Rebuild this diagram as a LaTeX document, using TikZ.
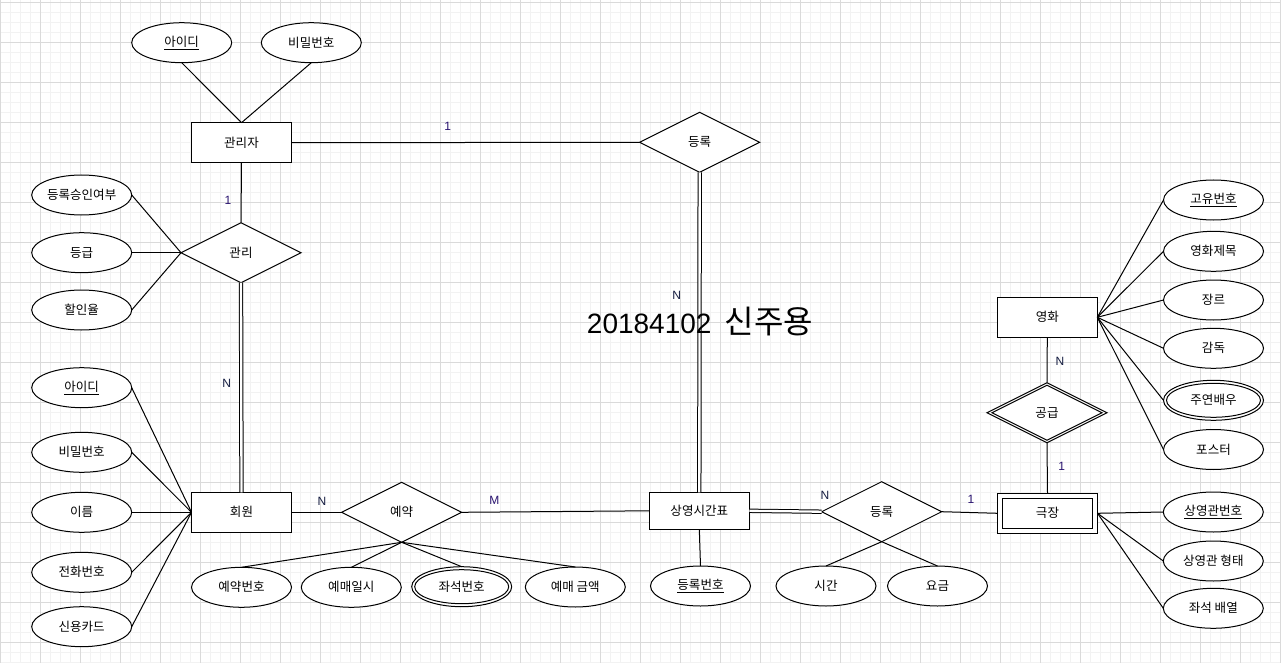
\documentclass[tikz,border=0pt]{standalone}
\usepackage{fontspec}
\setmainfont{Noto Sans CJK KR}
\newfontfamily\lat{Liberation Sans}
\usetikzlibrary{shapes.geometric}
\definecolor{majg}{HTML}{DADADA}
\definecolor{ming}{HTML}{F2F2F2}
\definecolor{cardone}{HTML}{2A1470}
\definecolor{cardn}{HTML}{141C40}
\begin{document}
\begin{tikzpicture}[x={(0.75pt,0)}, y={(0,-0.75pt)},
  lbl/.style={font=\fontsize{9.4pt}{11pt}\selectfont},
  ent/.style={lbl, draw=black, fill=white, line width=0.75pt, minimum width=75pt, minimum height=30pt, inner sep=0pt, outer sep=0pt},
  attr/.style={lbl, ellipse, draw=black, fill=white, line width=0.75pt, minimum width=75pt, minimum height=30pt, inner sep=0pt, outer sep=0pt},
  rel/.style={lbl, diamond, aspect=2, draw=black, fill=white, line width=0.75pt, minimum width=90pt, minimum height=45pt, inner sep=0pt, outer sep=0pt},
  ln/.style={line width=0.75pt, draw=black},
  dbl/.style={line width=0.75pt, draw=black, double=white, double distance=1.75pt},
  cardA/.style={font=\lat\fontsize{9pt}{11pt}\selectfont, text=cardone, inner sep=0pt},
  cardB/.style={font=\lat\fontsize{9pt}{11pt}\selectfont, text=cardn, inner sep=0pt},
  minorg/.style={draw=ming, line width=0.75pt},
  majorg/.style={draw=majg, line width=0.75pt}
]
\useasboundingbox (0,0) rectangle (1281,663);
\fill[white] (0,0) rectangle (1281,663);
% grid
\foreach \i in {0,...,128} { \draw[minorg] ({\i*10+0.5},0) -- ({\i*10+0.5},663); }
\foreach \j in {0,...,66} { \draw[minorg] (0,{\j*10+2.5}) -- (1281,{\j*10+2.5}); }
\foreach \i in {0,...,32} { \draw[majorg] ({\i*40+0.5},0) -- ({\i*40+0.5},663); }
\foreach \j in {0,...,16} { \draw[majorg] (0,{\j*40+2.5}) -- (1281,{\j*40+2.5}); }

% 관리자
\node[ent] (admin) at (241.5,142.7) {관리자};
\node[attr] (aid) at (181.7,42.7) {\underline{아이디}};
\node[attr] (apw) at (311.3,42.7) {비밀번호};
\node[rel] (gm) at (241,252.7) {관리};
\node[attr] (g1) at (81.7,195) {등록승인여부};
\node[attr] (g2) at (81.7,252.7) {등급};
\node[attr] (g3) at (81.7,310) {할인율};

% 회원
\node[ent] (member) at (241.5,512.3) {회원};
\node[attr] (m1) at (81.7,387.7) {\underline{아이디}};
\node[attr] (m2) at (81.7,452.3) {비밀번호};
\node[attr] (m3) at (81.7,512.3) {이름};
\node[attr] (m4) at (81.7,572.3) {전화번호};
\node[attr] (m5) at (81.7,626.7) {신용카드};

% 예약
\node[rel] (rsv) at (401.7,512.3) {예약};
\node[attr] (r1) at (241.5,587.3) {예약번호};
\node[attr] (r2) at (351.3,587.3) {예매일시};
\node[attr] (r3) at (461.7,586.7) {좌석번호};
\node[attr] (r4) at (575.3,587) {예매 금액};

% 상영시간표
\node[ent, minimum height=27.75pt] (sched) at (699.3,510.8) {상영시간표};
\node[attr] (s1) at (700.5,586) {\underline{등록번호}};
\node[rel] (reg1) at (699.7,142.3) {등록};
\node[rel] (reg2) at (881.7,511.7) {등록};
\node[attr] (t1) at (826,586) {시간};
\node[attr] (t2) at (937.5,586) {요금};

% 극장
\node[ent] (theater) at (1047.5,513.3) {극장};
\node[attr] (h1) at (1213.3,512) {\underline{상영관번호}};
\node[attr] (h2) at (1213.3,561) {상영관 형태};
\node[attr] (h3) at (1213.3,608.3) {좌석 배열};

% 영화
\node[ent] (movie) at (1047.3,317.3) {영화};
\node[rel] (supply) at (1047,412.7) {공급};
\node[attr] (v1) at (1213.5,200) {\underline{고유번호}};
\node[attr] (v2) at (1213.5,251.3) {영화제목};
\node[attr] (v3) at (1213.5,300) {장르};
\node[attr] (v4) at (1213.5,348.3) {감독};
\node[attr] (v5) at (1213.5,400.3) {주연배우};
\node[attr] (v6) at (1213.5,449.5) {포스터};

% inner outlines (double shapes)
\draw[ln] (r3.center) ellipse [x radius=35.25pt, y radius=12.75pt];
\draw[ln] (v5.center) ellipse [x radius=35.25pt, y radius=12.75pt];
\draw[ln] ([shift={(5,5)}]theater.north west) rectangle ([shift={(-5,-5)}]theater.south east);
\draw[ln] ([shift={(-55,0)}]supply.center) -- ([shift={(0,-27.5)}]supply.center) -- ([shift={(55,0)}]supply.center) -- ([shift={(0,27.5)}]supply.center) -- cycle;

% connectors
\draw[ln] (aid.south) -- (admin.north);
\draw[ln] (apw.south) -- (admin.north);
\draw[ln] (admin.south) -- (gm.north);
\draw[ln] (admin.east) -- (reg1.west);
\foreach \n in {g1,g2,g3} { \draw[ln] (\n.east) -- (gm.west); }
\draw[dbl] (gm.south) -- (member.north);
\foreach \n in {m1,m2,m3,m4,m5} { \draw[ln] (\n.east) -- (member.west); }
\draw[ln] (member.east) -- (rsv.west);
\draw[ln] (rsv.east) -- (sched.west);
\foreach \n in {r1,r2,r3,r4} { \draw[ln] (rsv.south) -- (\n.north); }
\draw[dbl] (reg1.south) -- (sched.north);
\draw[ln] (sched.south) -- (s1.north);
\draw[dbl] (sched.east) -- (reg2.west);
\draw[ln] (reg2.east) -- (theater.west);
\foreach \n in {t1,t2} { \draw[ln] (reg2.south) -- (\n.north); }
\foreach \n in {h1,h2,h3} { \draw[ln] (theater.east) -- (\n.west); }
\draw[ln] (movie.south) -- (supply.north);
\draw[ln] (supply.south) -- (theater.north);
\foreach \n in {v1,v2,v3,v4,v5,v6} { \draw[ln] (movie.east) -- (\n.west); }

% cardinalities
\node[cardA] (c1) at (228,200) {1};
\node[cardA] (c2) at (447.7,126.7) {1};
\node[cardB] (c3) at (676.7,295) {N};
\node[cardB] (c4) at (226.7,383.3) {N};
\node[cardB] (c5) at (322,501) {N};
\node[cardA] (c6) at (494.3,500) {M};
\node[cardB] (c7) at (825,495) {N};
\node[cardA] (c8) at (971,499.3) {1};
\node[cardA] (c9) at (1061.7,466.7) {1};
\node[cardB] (c10) at (1060,361.7) {N};

% title
\node[anchor=base west, inner sep=0pt] (title) at (586.7,333.3) {{\lat\fontsize{21pt}{25pt}\selectfont 20184102}\hspace{10pt}{\fontsize{24pt}{28pt}\selectfont 신주용}};
\end{tikzpicture}
\end{document}
